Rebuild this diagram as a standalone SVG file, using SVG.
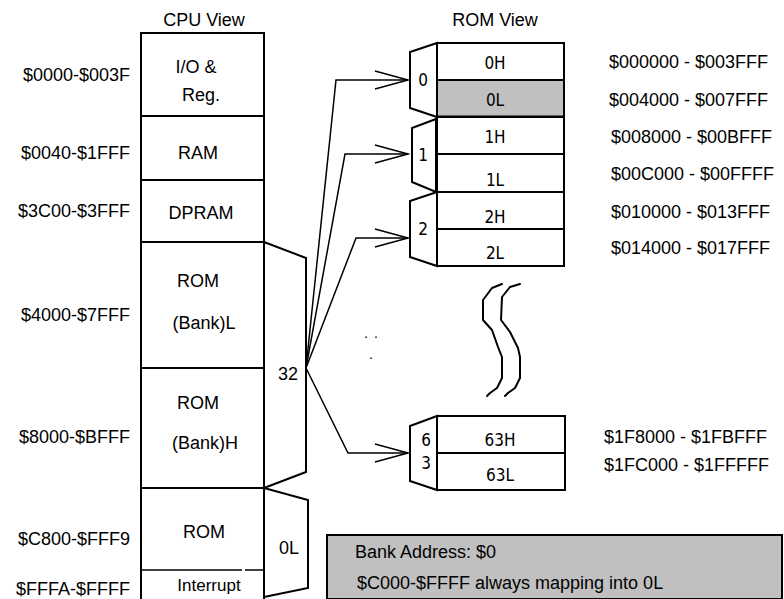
<svg xmlns="http://www.w3.org/2000/svg" width="784" height="599" viewBox="0 0 784 599">
<defs>
<style>
text{font-family:"Liberation Sans",Arial,sans-serif;font-size:18px;fill:#000}
.m{text-anchor:middle;dominant-baseline:central}
.r{text-anchor:end;dominant-baseline:central}
.l{text-anchor:start;dominant-baseline:central}
.n{font-family:"DejaVu Sans Condensed","DejaVu Sans","Liberation Sans",sans-serif;font-size:17px}
.box{fill:#fff;stroke:#000;stroke-width:2}
.ln{fill:none;stroke:#000;stroke-width:2}
.wv{fill:none;stroke:#000;stroke-width:2;stroke-linejoin:round;stroke-linecap:round}
.gray{fill:#c0c0c0;stroke:#000;stroke-width:2}
.con{fill:none;stroke:#000;stroke-width:1.5}
</style>
<marker id="arr" viewBox="-35 -10 37 20" refX="0" refY="0" markerWidth="37" markerHeight="20" markerUnits="userSpaceOnUse" orient="auto">
<path d="M-33,-9 L0,0 L-33,9" fill="none" stroke="#000" stroke-width="1.5"/>
</marker>
</defs>
<rect width="784" height="599" fill="#fff"/>

<text class="m" x="204" y="20">CPU View</text>
<text class="m" x="495" y="20">ROM View</text>

<g id="cpu-io">
<rect class="box" x="141" y="33" width="123" height="83"/>
<text class="m" x="196" y="67">I/O &amp;</text>
<text class="m" x="201" y="95">Reg.</text>
<text class="r" x="130" y="75">$0000-$003F</text>
</g>
<g id="cpu-ram">
<rect class="box" x="141" y="116" width="123" height="64"/>
<text class="m" x="198" y="153">RAM</text>
<text class="r" x="130" y="153">$0040-$1FFF</text>
</g>
<g id="cpu-dpram">
<rect class="box" x="141" y="180" width="123" height="62"/>
<text class="m" x="201" y="213">DPRAM</text>
<text class="r" x="130" y="211">$3C00-$3FFF</text>
</g>
<g id="cpu-rom-l">
<rect class="box" x="141" y="242" width="123" height="126"/>
<text class="m" x="198" y="281">ROM</text>
<text class="m" x="204" y="323">(Bank)L</text>
<text class="r" x="130" y="315">$4000-$7FFF</text>
</g>
<g id="cpu-rom-h">
<rect class="box" x="141" y="368" width="123" height="120"/>
<text class="m" x="198" y="403">ROM</text>
<text class="m" x="205" y="443">(Bank)H</text>
<text class="r" x="130" y="437">$8000-$BFFF</text>
</g>
<g id="cpu-rom-fixed">
<rect class="box" x="141" y="488" width="123" height="113"/>
<line x1="142" y1="570" x2="263" y2="570" stroke="#000" stroke-width="1.5" stroke-dasharray="100 3"/>
<text class="m" x="204" y="532">ROM</text>
<text class="m" x="209" y="585" style="font-size:17px">Interrupt</text>
<text class="r" x="130" y="539">$C800-$FFF9</text>
<text class="r" x="130" y="589">$FFFA-$FFFF</text>
</g>

<g id="mux-32">
<polygon class="ln" points="264,242 306,258 306,472 264,488"/>
<text class="m" x="288" y="374">32</text>
</g>
<g id="mux-0l">
<polygon class="ln" points="264,488 308,500 308,588 264,597"/>
<text class="m" x="289" y="548">0L</text>
</g>

<g id="bank0">
<polygon class="ln" points="437,43 410,52 410,108 437,117"/>
<rect class="box" x="437" y="43" width="127" height="37"/>
<rect class="gray" x="437" y="80" width="127" height="37"/>
<line x1="437" y1="117" x2="564" y2="117" stroke="#000" stroke-width="3"/>
<text class="m n" x="423" y="80">0</text>
<text class="m n" x="495" y="63">0H</text>
<text class="m n" x="495" y="100">0L</text>
<text class="l" x="609" y="62">$000000 - $003FFF</text>
<text class="l" x="609" y="100">$004000 - $007FFF</text>
</g>
<g id="bank1">
<polygon class="ln" points="436,119 412,128 412,182 436,192"/>
<rect class="box" x="437" y="117" width="127" height="37"/>
<rect class="box" x="437" y="154" width="127" height="38"/>
<text class="m n" x="423" y="155">1</text>
<text class="m n" x="495" y="137">1H</text>
<text class="m n" x="495" y="180">1L</text>
<text class="l" x="611" y="137">$008000 - $00BFFF</text>
<text class="l" x="611" y="174">$00C000 - $00FFFF</text>
</g>
<g id="bank2">
<polygon class="ln" points="437,192 410,201 410,257 437,266"/>
<rect class="box" x="437" y="192" width="127" height="37"/>
<rect class="box" x="437" y="229" width="127" height="37"/>
<text class="m n" x="423" y="229">2</text>
<text class="m n" x="495" y="217">2H</text>
<text class="m n" x="495" y="253">2L</text>
<text class="l" x="611" y="212">$010000 - $013FFF</text>
<text class="l" x="611" y="248">$014000 - $017FFF</text>
</g>
<g id="bank63">
<polygon class="ln" points="437,416 410,426 410,481 437,490"/>
<rect class="box" x="437" y="416" width="128" height="37"/>
<rect class="box" x="437" y="453" width="128" height="37"/>
<text class="m n" x="426" y="440">6</text>
<text class="m n" x="426" y="463">3</text>
<text class="m n" x="500" y="440">63H</text>
<text class="m n" x="500" y="475">63L</text>
<text class="l" x="604" y="437">$1F8000 - $1FBFFF</text>
<text class="l" x="604" y="465">$1FC000 - $1FFFFF</text>
</g>

<g id="break">
<polyline class="wv" points="502,284 492,288 483,300 483,320 492,330 498,347 502,357 502,378 497,388 490,393 487,396"/>
<polyline class="wv" points="520,284 510,287 502,297 501,320 510,332 518,348 520,357 520,378 515,388 508,393 505,396"/>
<text class="m" x="366" y="333" style="font-size:14px">.</text>
<text class="m" x="376" y="333" style="font-size:14px">.</text>
<text class="m" x="371" y="354" style="font-size:14px">.</text>
</g>

<g id="note">
<rect x="327" y="535" width="455" height="64" fill="#c0c0c0" stroke="#000" stroke-width="2"/>
<text class="l" x="355" y="552">Bank Address: $0</text>
<text class="l" x="357" y="583">$C000-$FFFF always mapping into 0L</text>
</g>

<g id="connectors">
<polyline class="con" points="306,368 336,80 408,80" marker-end="url(#arr)"/>
<polyline class="con" points="306,368 345,154 408,154" marker-end="url(#arr)"/>
<polyline class="con" points="306,368 356,238 408,238" marker-end="url(#arr)"/>
<polyline class="con" points="306,368 348,453 408,453" marker-end="url(#arr)"/>
</g>
</svg>
